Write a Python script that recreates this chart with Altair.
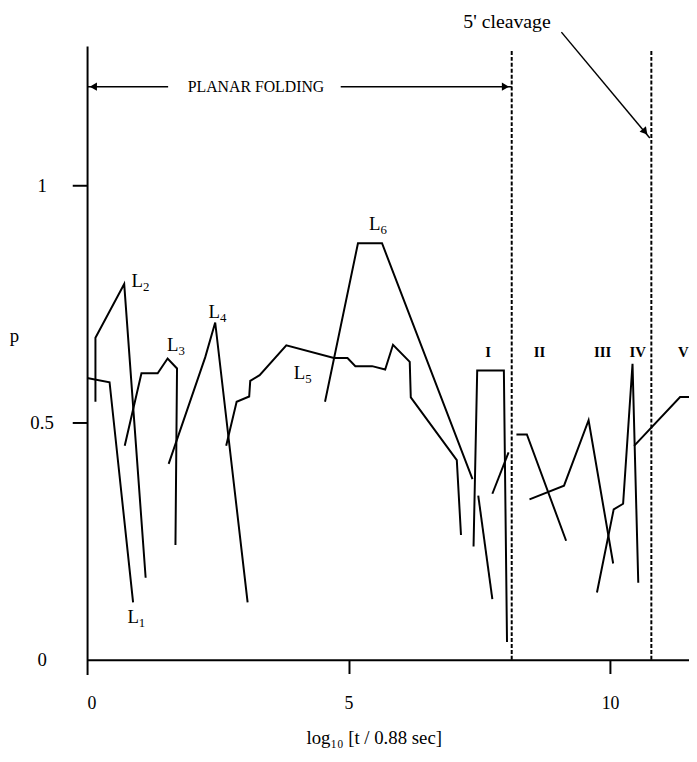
import altair as alt
import pandas as pd

# ---- trajectories (x = log10[t/0.88 s], p) ----
L1_x = [0.0, 0.43, 0.88]
L1_p = [0.594, 0.585, 0.121]
L2_x = [0.16, 0.16, 0.71, 1.12]
L2_p = [0.544, 0.679, 0.792, 0.173]
L3_x = [0.72, 1.04, 1.35, 1.54, 1.72, 1.69]
L3_p = [0.451, 0.604, 0.604, 0.635, 0.614, 0.242]
L4_x = [1.56, 2.26, 2.45, 3.07]
L4_p = [0.413, 0.638, 0.711, 0.121]
L5_x = [2.66, 2.86, 3.10, 3.12, 3.30, 3.81, 4.72, 4.98, 5.13, 5.45, 5.70, 5.85, 6.17, 6.19, 7.07, 7.15]
L5_p = [0.451, 0.544, 0.555, 0.588, 0.600, 0.663, 0.636, 0.636, 0.619, 0.619, 0.612, 0.664, 0.628, 0.553, 0.421, 0.263]
L6_x = [4.55, 5.18, 5.64, 7.37]
L6_p = [0.544, 0.878, 0.878, 0.381]
I_x = [7.39, 7.46, 7.97, 8.03]
I_p = [0.239, 0.610, 0.610, 0.0375]
A_x = [7.48, 7.75]
A_p = [0.346, 0.128]
B_x = [7.75, 8.06]
B_p = [0.350, 0.437]
II_x = [8.21, 8.41, 9.16]
II_p = [0.475, 0.475, 0.251]
D_x = [8.46, 9.12, 9.59, 10.06]
D_p = [0.338, 0.367, 0.505, 0.203]
E_x = [9.75, 10.07, 10.25, 10.43, 10.54]
E_p = [0.142, 0.317, 0.329, 0.624, 0.1625]
F_x = [10.46, 11.34, 11.60]
F_p = [0.451, 0.554, 0.554]

# ---- labels ----
lab_sub = ["1", "2", "3", "4", "5", "6"]
lab_x = [0.99, 1.07, 1.75, 2.54, 4.17, 5.61]
lab_p = [0.090, 0.798, 0.6625, 0.732, 0.604, 0.919]
roman = ["I", "II", "III", "IV", "V"]
roman_x = [7.67, 8.65, 9.86, 10.53, 11.40]
roman_p = [0.6485, 0.6485, 0.6485, 0.6485, 0.6485]

# event boundaries (dashed)
bound_x = [8.12, 10.79]
bound_top = 1.283

# annotation geometry
planar_y = 1.208
planar_left = [0.0, 1.55]
planar_right = [4.85, 8.12]
planar_text_x = 3.23
cleave_text = [8.03, 1.344]
cleave_from = [9.07, 1.323]
cleave_to = [10.76, 1.10]

FONT = "Liberation Serif"

series = {"L1": (L1_x, L1_p), "L2": (L2_x, L2_p), "L3": (L3_x, L3_p),
          "L4": (L4_x, L4_p), "L5": (L5_x, L5_p), "L6": (L6_x, L6_p),
          "I": (I_x, I_p), "A": (A_x, A_p), "B": (B_x, B_p),
          "II": (II_x, II_p), "D": (D_x, D_p), "E": (E_x, E_p), "F": (F_x, F_p)}
rows = []
for name, (xs, ps) in series.items():
    for i, (xv, pv) in enumerate(zip(xs, ps)):
        rows.append({"seg": name, "i": i, "x": xv, "p": pv})
df = pd.DataFrame(rows)

xscale = alt.Scale(domain=[0, 11.51], nice=False, zero=False)
yscale = alt.Scale(domain=[-0.031, 1.294], nice=False, zero=False)

XT = "log₁₀ [t / 0.88 sec]"
hide_zero = {"condition": {"test": "datum.value == 0", "value": 0}, "value": 1}
x_axis = alt.Axis(values=[0, 5, 10], format="d", offset=-15, grid=False,
                  tickSize=14, tickWidth=2, tickColor="black", tickOpacity=hide_zero,
                  domainColor="black", domainWidth=2,
                  labelFont=FONT, labelFontSize=18, labelColor="black",
                  labelBaseline="middle", labelPadding=30,
                  title=XT, titleFont=FONT, titleFontSize=19,
                  titleFontWeight="normal", titleColor="black",
                  titleX=290, titleY=79, titleAlign="center", titleBaseline="middle")
y_axis = alt.Axis(values=[0, 0.5, 1], format="~g", grid=False,
                  tickSize=15, tickWidth=2, tickColor="black", tickOpacity=hide_zero,
                  domainColor="black", domainWidth=2,
                  labelFont=FONT, labelFontSize=19, labelColor="black",
                  labelAlign="center", labelBaseline="middle", labelPadding=31,
                  title="p", titleFont=FONT, titleFontSize=19, titleFontWeight="normal",
                  titleColor="black", titleAngle=0, titleX=-74, titleY=293,
                  titleAlign="center", titleBaseline="middle")


def X(f):
    return alt.X(f, scale=xscale, axis=x_axis, title=XT)


def Y(f):
    return alt.Y(f, scale=yscale, axis=y_axis, title="p")


lines = alt.Chart(df).mark_line(color="black", strokeWidth=2).encode(
    x=X("x:Q"), y=Y("p:Q"), detail="seg:N", order="i:Q")

bdf = pd.DataFrame({"x": bound_x, "y0": [0, 0], "y1": [bound_top, bound_top]})
bounds = alt.Chart(bdf).mark_rule(color="black", strokeWidth=2, strokeDash=[4, 2]).encode(
    x=X("x:Q"), y=Y("y0:Q"), y2="y1:Q")

ldf = pd.DataFrame({"x": lab_x, "p": lab_p, "sub": lab_sub, "L": ["L"] * 6})
lab_L = alt.Chart(ldf).mark_text(font=FONT, fontSize=19, align="right", baseline="middle", color="black").encode(
    x=X("x:Q"), y=Y("p:Q"), text="L:N")
lab_s = alt.Chart(ldf).mark_text(font=FONT, fontSize=13, align="left", baseline="middle", dy=6, color="black").encode(
    x=X("x:Q"), y=Y("p:Q"), text="sub:N")

rdf = pd.DataFrame({"x": roman_x, "p": roman_p, "t": roman})
rom = alt.Chart(rdf).mark_text(font=FONT, fontSize=15, fontWeight="bold", align="center", baseline="middle", color="black").encode(
    x=X("x:Q"), y=Y("p:Q"), text="t:N")

pdf = pd.DataFrame({"x": [planar_left[0], planar_right[0]], "x2": [planar_left[1], planar_right[1]],
                    "y": [planar_y, planar_y]})
planar_lines = alt.Chart(pdf).mark_rule(color="black", strokeWidth=1.5).encode(
    x=X("x:Q"), x2="x2:Q", y=Y("y:Q"))
hdf = pd.DataFrame({"x": [planar_left[0] + 0.12, planar_right[1] - 0.12], "y": [planar_y, planar_y],
                    "shape": ["triangle-left", "triangle-right"]})
planar_heads = alt.Chart(hdf).mark_point(filled=True, color="black", size=70, opacity=1).encode(
    x=X("x:Q"), y=Y("y:Q"), shape=alt.Shape("shape:N", scale=None, legend=None))
planar_text = alt.Chart(pd.DataFrame({"x": [planar_text_x], "y": [planar_y], "t": ["PLANAR FOLDING"]})).mark_text(
    font=FONT, fontSize=16, align="center", baseline="middle", color="black").encode(
    x=X("x:Q"), y=Y("y:Q"), text="t:N")
cleave_txt = alt.Chart(pd.DataFrame({"x": [cleave_text[0]], "y": [cleave_text[1]], "t": ["5' cleavage"]})).mark_text(
    font=FONT, fontSize=20, align="center", baseline="middle", color="black").encode(
    x=X("x:Q"), y=Y("y:Q"), text="t:N")

cdf = pd.DataFrame({"x": [cleave_from[0]], "x2": [cleave_to[0]], "y": [cleave_from[1]], "y2": [cleave_to[1]]})
cleave_line = alt.Chart(cdf).mark_rule(color="black", strokeWidth=1.5).encode(
    x=X("x:Q"), x2="x2:Q", y=Y("y:Q"), y2="y2:Q")
chdf = pd.DataFrame({"x": [cleave_to[0] - 0.09], "y": [cleave_to[1] + 0.013]})
cleave_head = alt.Chart(chdf).mark_point(filled=True, color="black", size=70, opacity=1,
                                          shape="triangle-right", angle=50).encode(
    x=X("x:Q"), y=Y("y:Q"))

chart = alt.layer(lines, bounds, lab_L, lab_s, rom, planar_lines, planar_heads, planar_text,
                  cleave_txt, cleave_line, cleave_head).properties(
    width=609, height=636,
    autosize=alt.AutoSizeParams(type="none"),
    padding={"left": 80, "top": 34, "right": 0, "bottom": 70},
    background="white",
).configure_view(stroke=None)

chart.save("out.html", embed_options={"renderer": "svg", "actions": False})
